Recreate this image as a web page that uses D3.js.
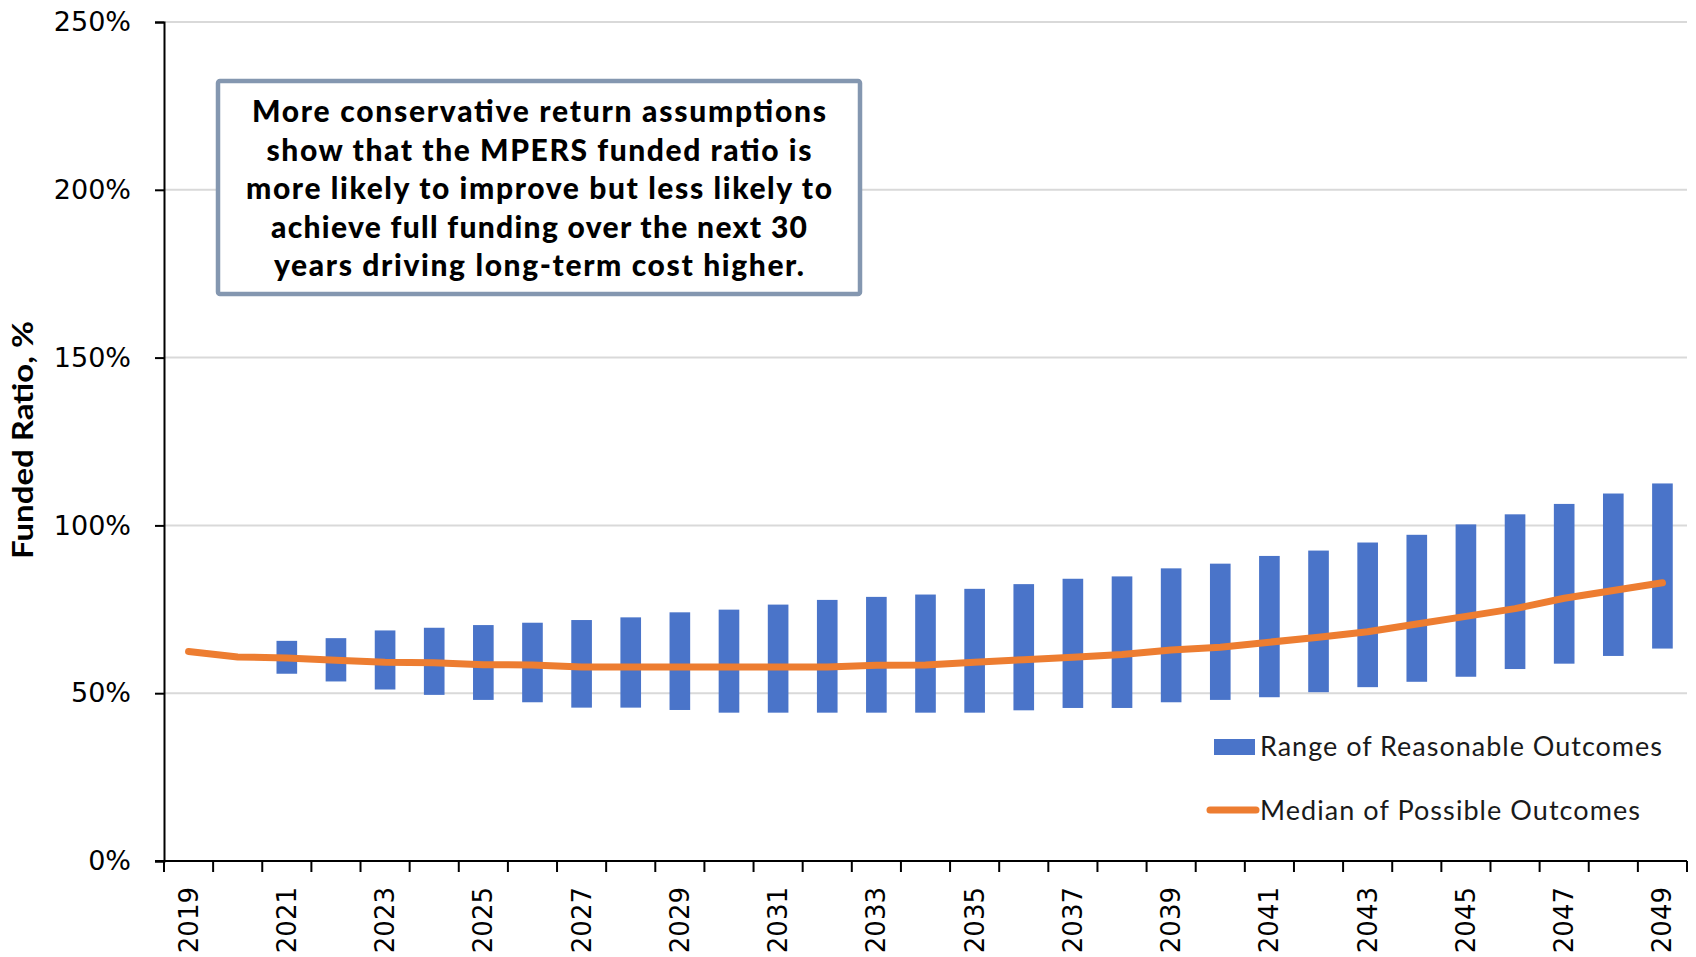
<!DOCTYPE html>
<html>
<head>
<meta charset="utf-8">
<script src="https://cdn.jsdelivr.net/npm/d3@7"></script>
<style>
  html, body { margin: 0; padding: 0; background: #fff; }
  svg { display: block; }
</style>
</head>
<body>
<div id="chart"></div>
<script>
// data
const years = d3.range(2019, 2050).map(String);
const medianValues = [62.4, 60.8, 60.5, 59.8, 59.2, 59.1, 58.5, 58.4, 57.8, 57.8, 57.8, 57.8, 57.8, 57.8, 58.3, 58.4,
  59.2, 60.0, 60.7, 61.5, 62.9, 63.7, 65.2, 66.7, 68.3, 70.6, 72.9, 75.2, 78.3, 80.6, 82.9];
const rangeYears = d3.range(2021, 2050).map(String);
const rangeLow = [55.8, 53.5, 51.1, 49.5, 48.0, 47.3, 45.7, 45.7, 45.0, 44.2, 44.2, 44.2, 44.2, 44.2, 44.2,
  44.9, 45.6, 45.6, 47.3, 48.0, 48.8, 50.3, 51.8, 53.4, 54.9, 57.2, 58.8, 61.1, 63.3];
const rangeHigh = [65.6, 66.4, 68.7, 69.5, 70.3, 71.0, 71.8, 72.6, 74.1, 74.9, 76.4, 77.8, 78.7, 79.4, 81.1,
  82.5, 84.1, 84.8, 87.2, 88.6, 90.9, 92.5, 94.9, 97.2, 100.3, 103.3, 106.4, 109.5, 112.5];
const yTicks = [0, 50, 100, 150, 200, 250];
const xTickLabels = years.filter((d, i) => i % 2 === 0);
const legendLabels = ["Range of Reasonable Outcomes", "Median of Possible Outcomes"];
const noteLines = [
  "More conservative return assumptions",
  "show that the MPERS funded ratio is",
  "more likely to improve but less likely to",
  "achieve full funding over the next 30",
  "years driving long-term cost higher."
];

const width = 1696, height = 957;
const margin = { top: 22, right: 9, bottom: 96, left: 164 };

const svg = d3.select('#chart').append('svg')
  .attr('width', width)
  .attr('height', height);

const x = d3.scaleBand()
  .domain(years)
  .range([margin.left, width - margin.right])
  .paddingInner(0).paddingOuter(0);
const y = d3.scaleLinear()
  .domain([0, 250])
  .range([height - margin.bottom, margin.top]);

// gridlines
svg.append('g')
  .selectAll('line')
  .data(yTicks.filter(d => d > 0))
  .enter().append('line')
  .attr('x1', margin.left)
  .attr('x2', width - margin.right)
  .attr('y1', d => y(d))
  .attr('y2', d => y(d))
  .attr('stroke', '#d9d9d9')
  .attr('stroke-width', 2);

// range bars
const barW = x.bandwidth() * 0.42;
svg.append('g')
  .selectAll('rect')
  .data(rangeYears.map((yr, i) => ({ yr, lo: rangeLow[i], hi: rangeHigh[i] })))
  .enter().append('rect')
  .attr('x', d => x(d.yr) + x.bandwidth() / 2 - barW / 2)
  .attr('width', barW)
  .attr('y', d => y(d.hi))
  .attr('height', d => y(d.lo) - y(d.hi))
  .attr('fill', '#4a74c9');

// median line
const line = d3.line()
  .x((d, i) => x(years[i]) + x.bandwidth() / 2)
  .y(d => y(d));
svg.append('path')
  .datum(medianValues)
  .attr('d', line)
  .attr('fill', 'none')
  .attr('stroke', '#ed7d31')
  .attr('stroke-width', 7)
  .attr('stroke-linecap', 'round')
  .attr('stroke-linejoin', 'round');

// y axis
const yAxis = svg.append('g')
  .attr('transform', `translate(${margin.left},0)`)
  .call(d3.axisLeft(y).tickValues(yTicks).tickFormat(d => d + '%').tickSize(9).tickPadding(24));
yAxis.select('.domain').attr('stroke', '#000').attr('stroke-width', 2);
yAxis.selectAll('.tick line').attr('stroke', '#000').attr('stroke-width', 2);
yAxis.selectAll('.tick text')
  .attr('font-family', 'DejaVu Sans, Verdana, sans-serif')
  .attr('font-size', 27)
  .attr('fill', '#000');

// x axis (ticks at band edges)
const xAxisG = svg.append('g')
  .attr('transform', `translate(0,${height - margin.bottom})`);
xAxisG.append('line')
  .attr('x1', margin.left - 9)
  .attr('x2', width - margin.right)
  .attr('stroke', '#000')
  .attr('stroke-width', 2);
const edges = years.map(d => x(d)).concat([x(years[years.length - 1]) + x.bandwidth()]);
xAxisG.selectAll('.xt')
  .data(edges)
  .enter().append('line')
  .attr('class', 'xt')
  .attr('x1', d => d).attr('x2', d => d)
  .attr('y1', 0).attr('y2', 11)
  .attr('stroke', '#000')
  .attr('stroke-width', 2);
xAxisG.selectAll('.xl')
  .data(xTickLabels)
  .enter().append('text')
  .attr('class', 'xl')
  .attr('transform', d => `translate(${x(d) + x.bandwidth() / 2 + 9},26) rotate(-90)`)
  .attr('text-anchor', 'end')
  .attr('font-family', 'DejaVu Sans, Verdana, sans-serif')
  .attr('font-size', 26)
  .attr('fill', '#000')
  .text(d => d);

// y axis title
svg.append('text')
  .attr('transform', 'translate(33,440) rotate(-90)')
  .attr('text-anchor', 'middle')
  .attr('font-family', 'Lato, sans-serif')
  .attr('font-weight', 'bold')
  .attr('font-size', 28)
  .attr('textLength', 238)
  .attr('lengthAdjust', 'spacingAndGlyphs')
  .text('Funded Ratio, %');

// annotation box
const note = svg.append('g');
note.append('rect')
  .attr('x', 218).attr('y', 81)
  .attr('width', 642).attr('height', 213)
  .attr('rx', 2)
  .attr('fill', '#fff')
  .attr('stroke', '#8497b0')
  .attr('stroke-width', 4.5);
const noteWidths = [574, 545, 586, 536, 530];
note.selectAll('text')
  .data(noteLines)
  .enter().append('text')
  .attr('x', 539)
  .attr('y', (d, i) => 122 + i * 38.5)
  .attr('text-anchor', 'middle')
  .attr('font-family', 'Lato, sans-serif')
  .attr('font-weight', 900)
  .attr('font-size', 30)
  .attr('textLength', (d, i) => noteWidths[i])
  .attr('lengthAdjust', 'spacing')
  .attr('fill', '#000')
  .text(d => d);

// legend
const legend = svg.append('g').attr('font-family', 'Lato, sans-serif').attr('font-size', 27).attr('fill', '#1a1a1a');
legend.append('rect')
  .attr('x', 1214).attr('y', 739)
  .attr('width', 41).attr('height', 16)
  .attr('fill', '#4a74c9');
legend.append('line')
  .attr('x1', 1210).attr('x2', 1256)
  .attr('y1', 810).attr('y2', 810)
  .attr('stroke', '#ed7d31')
  .attr('stroke-width', 7)
  .attr('stroke-linecap', 'round');
legend.selectAll('text')
  .data(legendLabels)
  .enter().append('text')
  .attr('x', 1260)
  .attr('y', (d, i) => 756 + i * 64)
  .attr('textLength', (d, i) => [402, 380][i])
  .attr('lengthAdjust', 'spacing')
  .text(d => d);
</script>
</body>
</html>
